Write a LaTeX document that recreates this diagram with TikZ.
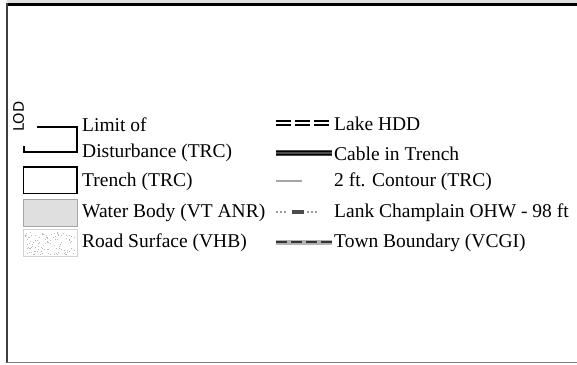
\documentclass[tikz,border=0pt]{standalone}
\usepackage{fontspec}
\setmainfont{Liberation Serif}
\newfontfamily\lodfont{DejaVu Sans}
\tikzset{
  lbl/.style={anchor=west, inner sep=0pt, font=\fontsize{19.5}{26}\selectfont, align=left},
  symline/.style={line width=1.8pt, black},
}
\begin{document}
\begin{tikzpicture}[x=1pt,y=-1pt]
\useasboundingbox (0,0) rectangle (577,364);
% frame
\fill[gray!25] (7,0) rectangle (577,3);
\draw[line width=2.5pt] (6.5,4.3) -- (577,4.3);
\draw[line width=1.5pt, black!75] (7.2,3) -- (7.2,363);
\draw[line width=1.5pt, gray] (7,362.6) -- (577,362.6);
% LOD symbol
\node[rotate=90, inner sep=0pt, font=\lodfont\fontsize{14.5}{14.5}\selectfont] (lod) at (18.5,116.5) {LOD};
\draw[symline] (37,127) -- (77,127) -- (77,152) -- (24,152) -- (24,146);
\node[lbl] (t1) at (82,139.5) {Limit of\\Disturbance (TRC)};
% trench
\draw[symline] (23.5,167) rectangle (77,193.5);
\node[lbl] (t2) at (82,181.5) {Trench (TRC)};
% water
\draw[fill=gray!25, draw=gray!70, line width=1pt] (23.5,199.5) rectangle (77,226);
\node[lbl] (t3) at (82,212.5) {Water Body (VT ANR)};
% road
\draw[draw=gray!35, line width=0.8pt] (23.5,229.5) rectangle (77,256);
\pgfmathsetseed{7}
\foreach \i in {1,...,110}{
  \pgfmathsetmacro{\rx}{25+50*rnd}
  \pgfmathsetmacro{\ry}{231.5+23*rnd}
  \fill[gray!55] (\rx,\ry) rectangle ++(0.9,0.9);
}
\node[lbl] (t4) at (82,242.5) {Road Surface (VHB)};
% right column
\draw[line width=1.6pt, dash pattern=on 15pt off 4pt] (276,121.2) -- (329,121.2);
\draw[line width=1.6pt, dash pattern=on 15pt off 4pt] (276,125.0) -- (329,125.0);
\node[lbl] (t5) at (334,123.5) {Lake HDD};
\draw[line width=6pt, gray!60!black] (276,153) -- (332,153);
\draw[line width=0.9pt, black] (276,151.4) -- (332,151.4);
\draw[line width=0.9pt, black] (276,154.6) -- (332,154.6);
\node[lbl] (t6) at (334,153.5) {Cable in Trench};
\draw[line width=1.5pt, gray!70] (276,181) -- (302,181);
\node[lbl] (t7) at (334,181.5) {2 ft. Contour (TRC)};
\foreach \x in {277,281,285,308,312,316}{\fill[gray!40!black] (\x,212) circle (0.8);}
\fill[black!70] (292,210) rectangle (304,214);
\node[lbl] (t8) at (334,212.5) {Lank Champlain OHW - 98 ft};
\draw[line width=5pt, gray!60] (276,242) -- (332,242);
\draw[line width=1.3pt, black!80, dash pattern=on 11pt off 4pt] (276,242) -- (332,242);
\node[lbl] (t9) at (334,242.5) {Town Boundary (VCGI)};
\end{tikzpicture}
\end{document}
